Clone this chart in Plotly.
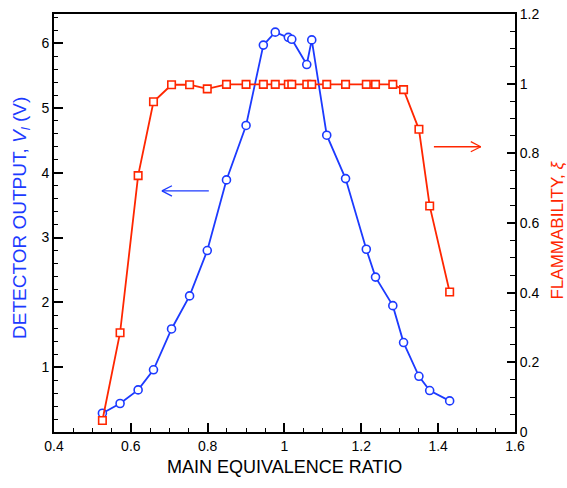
import plotly.graph_objects as go

# Data
phi = [0.526, 0.572, 0.619, 0.659, 0.706, 0.753, 0.799, 0.849, 0.900, 0.945, 0.976, 1.010,
       1.019, 1.058, 1.071, 1.110, 1.159, 1.213, 1.237, 1.282, 1.310, 1.350, 1.378, 1.430]
detector_v = [0.29, 0.44, 0.65, 0.96, 1.59, 2.10, 2.80, 3.89, 4.73, 5.97, 6.17, 6.09,
              6.06, 5.67, 6.05, 4.58, 3.91, 2.82, 2.39, 1.95, 1.38, 0.86, 0.64, 0.48]
flammability = [0.033, 0.285, 0.736, 0.948, 0.997, 0.997, 0.985, 0.998, 0.998, 0.998, 0.998, 0.998,
                0.998, 0.998, 0.998, 0.998, 0.998, 0.998, 0.998, 0.998, 0.983, 0.869, 0.649, 0.402]

x_ticks = [0.4, 0.6, 0.8, 1.0, 1.2, 1.4, 1.6]
x_ticklabels = ["0.4", "0.6", "0.8", "1", "1.2", "1.4", "1.6"]
y1_ticks = [1, 2, 3, 4, 5, 6]
y2_ticks = [0, 0.2, 0.4, 0.6, 0.8, 1.0, 1.2]
y2_ticklabels = ["0", "0.2", "0.4", "0.6", "0.8", "1", "1.2"]

BLUE = "rgb(28,58,255)"
RED = "rgb(255,38,0)"
FONT = "Liberation Sans, Arial, Helvetica, sans-serif"

fig = go.Figure()
fig.add_trace(go.Scatter(
    x=phi, y=detector_v, mode="lines+markers",
    line=dict(color=BLUE, width=1.8),
    marker=dict(symbol="circle", size=8, color="white", line=dict(color=BLUE, width=1.6)),
    yaxis="y", showlegend=False, cliponaxis=False))
fig.add_trace(go.Scatter(
    x=phi, y=flammability, mode="lines+markers",
    line=dict(color=RED, width=1.8),
    marker=dict(symbol="square", size=7.5, color="white", line=dict(color=RED, width=1.6)),
    yaxis="y2", showlegend=False, cliponaxis=False))

axis_common = dict(showgrid=False, zeroline=False, showline=True, linecolor="black", linewidth=2,
                   ticks="inside", tickcolor="black", tickwidth=1.5, ticklabeloverflow="allow",
                   tickfont=dict(family=FONT, size=14, color="black"))

fig.update_layout(
    width=567, height=488,
    margin=dict(l=54, r=52, t=6, b=56),
    paper_bgcolor="white", plot_bgcolor="white",
    font=dict(family=FONT),
    xaxis=dict(range=[0.4, 1.6001], tickvals=x_ticks, ticktext=x_ticklabels, ticklen=9,
               mirror=True,
               minor=dict(dtick=0.05, tick0=0.4, ticks="inside", ticklen=4, tickcolor="black", tickwidth=1.2),
               **axis_common),
    yaxis=dict(range=[0, 6.45], tickvals=y1_ticks, ticklen=9,
               minor=dict(dtick=0.2, tick0=0, ticks="inside", ticklen=4, tickcolor="black", tickwidth=1.2),
               **axis_common),
    yaxis2=dict(range=[0, 1.2001], tickvals=y2_ticks, ticktext=y2_ticklabels, ticklen=8,
                overlaying="y", side="right",
                minor=dict(dtick=0.05, tick0=0, ticks="inside", ticklen=5, tickcolor="black", tickwidth=1.2),
                **axis_common),
)

annotations = [
    dict(text="MAIN EQUIVALENCE RATIO", xref="paper", yref="paper", x=0.5, y=-0.084,
         xanchor="center", yanchor="middle", showarrow=False,
         font=dict(family=FONT, size=18, color="black")),
    dict(text="DETECTOR OUTPUT, <i>V</i><sub><i>l</i></sub> (V)", xref="paper", yref="paper",
         x=-0.0716, y=0.512, xanchor="center", yanchor="middle", textangle=-90, showarrow=False,
         font=dict(family=FONT, size=19, color=BLUE)),
    dict(text="FLAMMABILITY, <i>ξ</i>", xref="paper", yref="paper",
         x=1.092, y=0.483, xanchor="center", yanchor="middle", textangle=-90, showarrow=False,
         font=dict(family=FONT, size=17, color=RED)),
]
fig.update_layout(annotations=annotations)

# Arrows (drawn as open-headed arrows)
def arrow(x0, x1, y, yref, color, hx, hy):
    # x1 is tip
    d = 1 if x1 > x0 else -1
    return [
        dict(type="line", xref="x", yref=yref, x0=x0, x1=x1, y0=y, y1=y,
             line=dict(color=color, width=1.3)),
        dict(type="line", xref="x", yref=yref, x0=x1 - d * hx, x1=x1, y0=y + hy, y1=y,
             line=dict(color=color, width=1.3)),
        dict(type="line", xref="x", yref=yref, x0=x1 - d * hx, x1=x1, y0=y - hy, y1=y,
             line=dict(color=color, width=1.3)),
    ]

shapes = arrow(0.803, 0.681, 3.72, "y", BLUE, 0.026, 0.08) + \
         arrow(1.389, 1.511, 0.819, "y2", RED, 0.026, 0.0145)
fig.update_layout(shapes=shapes)

fig.write_html("out.html")
